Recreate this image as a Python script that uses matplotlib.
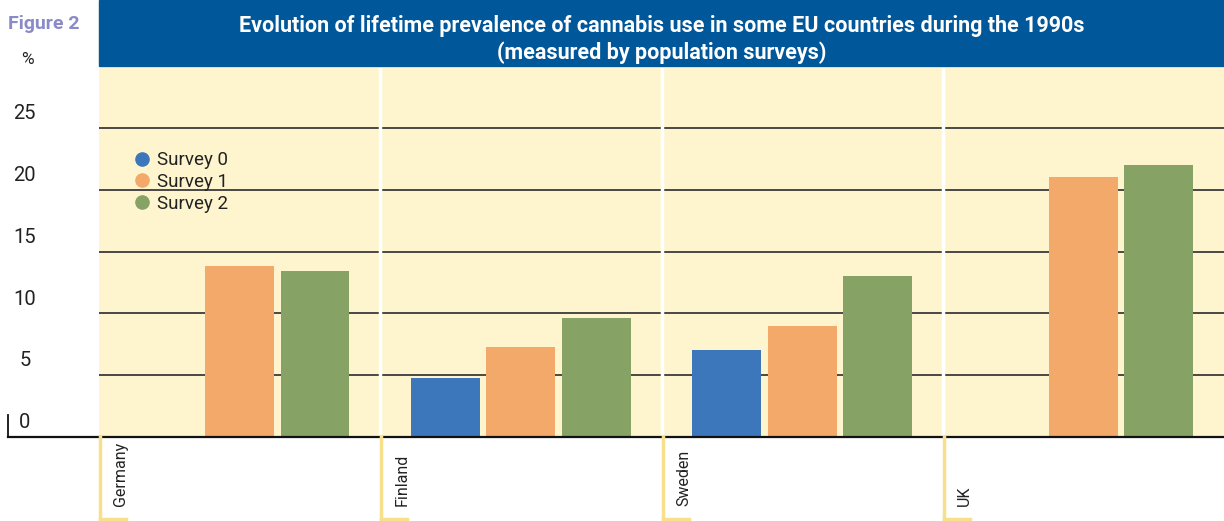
# -*- coding: utf-8 -*-
"""
Figure 2: lifetime prevalence of cannabis use, some EU countries, 1990s
"""

import numpy as np
import matplotlib
matplotlib.use('Agg')
import matplotlib.pyplot as plt
from matplotlib.lines import Line2D
from matplotlib.patches import Rectangle

plt.rcParams['font.family'] = ['Roboto', 'DejaVu Sans']

# ---- data ----
countries = ['Germany', 'Finland', 'Sweden', 'UK']
survey_names = ['Survey 0', 'Survey 1', 'Survey 2']
survey0 = [np.nan, 4.8, 7.0, np.nan]
survey1 = [13.8, 7.3, 9.0, 21.0]
survey2 = [13.4, 9.6, 13.0, 22.0]
yticks = [0, 5, 10, 15, 20, 25]

title = ('Evolution of lifetime prevalence of cannabis use in some EU countries during the 1990s\n'
         '(measured by population surveys)')

colors = ['#3d77bb', '#f3a96a', '#86a264']
BG = '#fef5cf'
HEADER = '#00579a'
GOLD = '#f8df8c'

W, H = 1224, 521
fig = plt.figure(figsize=(W / 100, H / 100), dpi=100)

ax_l, ax_r, ax_b, ax_t = 99, 1224, 437, 68
ax = fig.add_axes([ax_l / W, 1 - ax_b / H, (ax_r - ax_l) / W, (ax_b - ax_t) / H])
ax.set_facecolor(BG)

x = np.arange(len(countries)) + 0.5
width = 0.245
step = 0.268
for i, vals in enumerate([survey0, survey1, survey2]):
    ax.bar(x + (i - 1) * step, vals, width, color=colors[i], zorder=3)

ax.set_xlim(0, len(countries))
ax.set_ylim(0, 29.85)

# gridlines
for v in yticks[1:]:
    ax.axhline(v, color='#3a3a3a', lw=1.3, zorder=1)

# white separators between countries
for b in range(1, len(countries)):
    ax.axvline(b, color='white', lw=2.5, zorder=2)

for s in ax.spines.values():
    s.set_visible(False)
ax.set_xticks([])
ax.set_yticks([])

# y tick labels sit above the gridlines
ytr = ax.get_yaxis_transform()
for v in yticks:
    ax.text(-0.066, v + 1.15, str(v), transform=ytr, ha='center', va='center',
            fontsize=14.5, color='#222222', clip_on=False)
ax.text(-0.064, 29.9, '%', transform=ytr, ha='center', va='bottom',
        fontsize=12.5, color='#222222', clip_on=False)

# axis base line and small tick at left
fig.add_artist(Line2D([8 / W, 1], [1 - ax_b / H] * 2, color='#111111', lw=1.6))
fig.add_artist(Line2D([8 / W, 8 / W], [1 - ax_b / H, 1 - 415 / H], color='#111111', lw=1.3))

# country labels with gold brackets below the axis
xtr = ax.get_xaxis_transform()
for i, c in enumerate(countries):
    ax.text(i + 0.078, -(506 - ax_b) / (ax_b - ax_t), c, transform=xtr, rotation=90,
            ha='center', va='bottom', fontsize=11.5, color='#222222', clip_on=False)
    px = ax_l + i * (ax_r - ax_l) / len(countries) + 1
    fig.add_artist(Line2D([px / W, px / W], [1 - ax_b / H, 1 - 519 / H], color=GOLD, lw=2.5))
    fig.add_artist(Line2D([px / W, (px + 26) / W], [1 - 519 / H] * 2, color=GOLD, lw=2.5))

# legend
handles = [Line2D([], [], marker='o', ls='', color=colors[i], markersize=9.5)
           for i in range(3)]
ax.legend(handles, survey_names, loc='upper left', bbox_to_anchor=(0.023, 0.80),
          frameon=False, fontsize=13.5, handlelength=0.8, handletextpad=0.4,
          labelspacing=0.2, borderpad=0, labelcolor='#222222')

# header band
fig.add_artist(Rectangle((ax_l / W, 1 - 66 / H), (W - ax_l) / W, 66 / H,
                         transform=fig.transFigure, color=HEADER, zorder=0))
fig.text((ax_l + W) / 2 / W, 1 - 39.5 / H, title, ha='center', va='center',
         fontsize=15.5, fontweight='bold', color='white', linespacing=1.25)
fig.text(8 / W, 1 - 24 / H, 'Figure 2', ha='left', va='center',
         fontsize=14, fontweight='bold', color='#8a8ac8')

plt.savefig('out.png', dpi=100)
plt.close()
print('OK')
